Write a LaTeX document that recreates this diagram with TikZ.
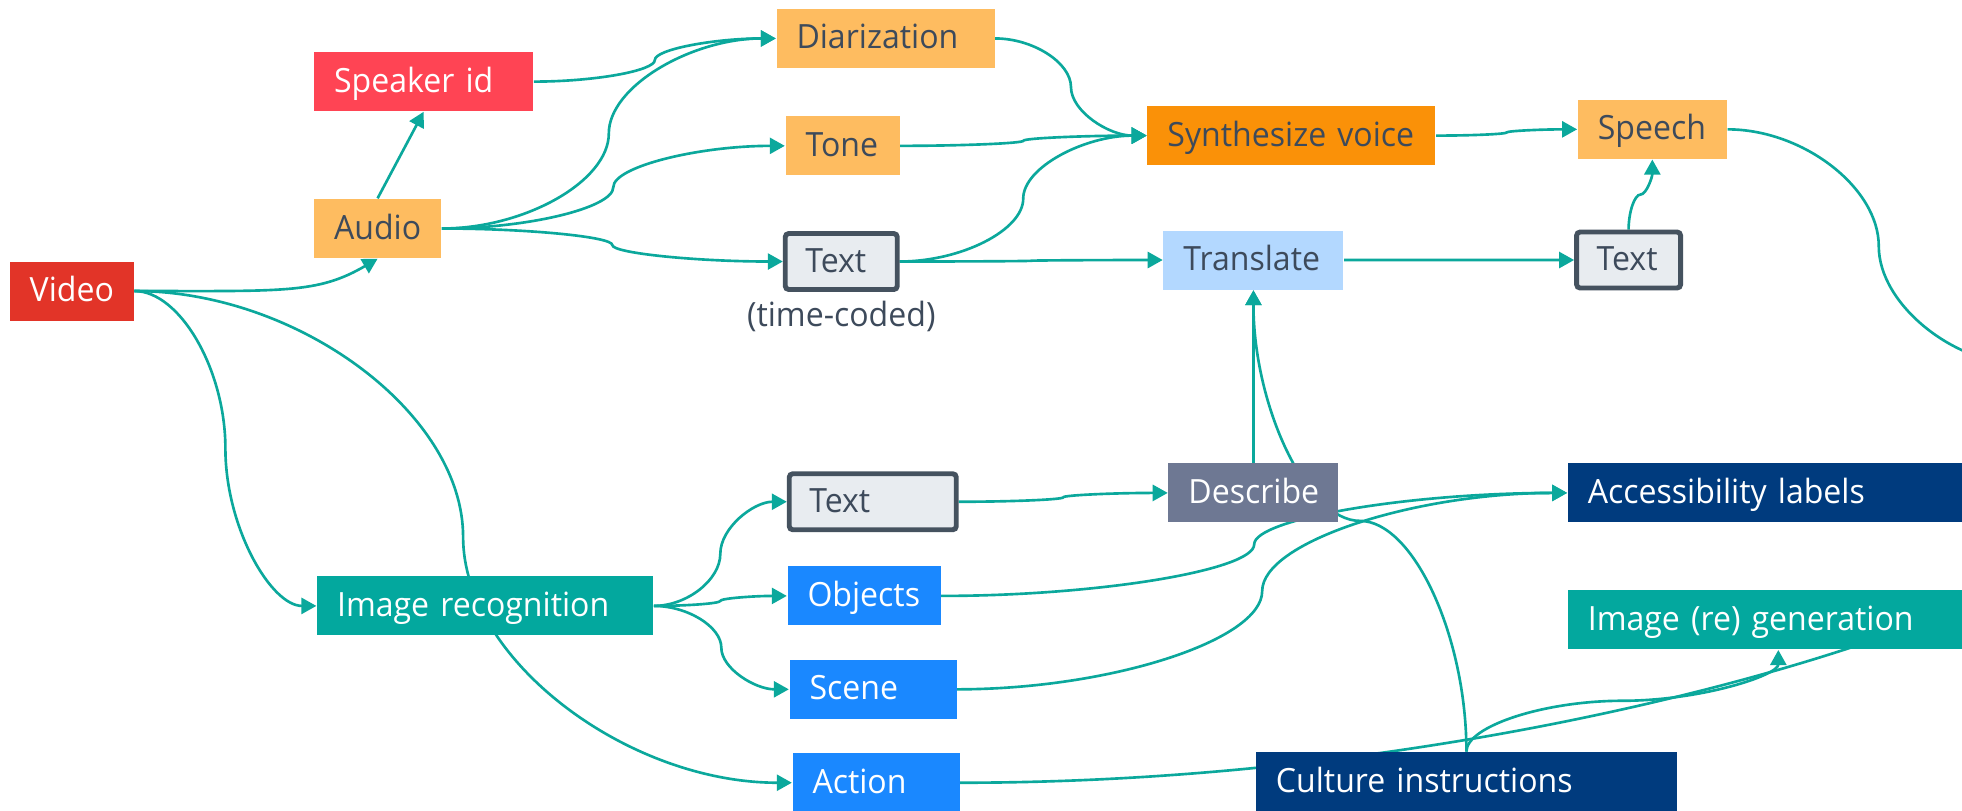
\documentclass[tikz,border=0pt]{standalone}
\usepackage{fontspec}
\setmainfont{Open Sans}[FakeStretch=0.96]
\usetikzlibrary{positioning,calc,arrows.meta,backgrounds}

\definecolor{videored}{HTML}{E23428}
\definecolor{speakerred}{HTML}{FF4454}
\definecolor{sand}{HTML}{FEBC60}
\definecolor{deeporange}{HTML}{FA9108}
\definecolor{paper}{HTML}{E8ECF0}
\definecolor{slate}{HTML}{45525F}
\definecolor{sky}{HTML}{B3D8FF}
\definecolor{dusk}{HTML}{6E7893}
\definecolor{jade}{HTML}{03A89E}
\definecolor{azure}{HTML}{1A88FF}
\definecolor{deepnavy}{HTML}{003B7E}
\definecolor{linkteal}{HTML}{0BA89C}
\definecolor{darktext}{HTML}{3D4A5B}

\tikzstyle{box} = [
    rectangle,                  % Shape
    minimum height=0.59cm,      % Height
    inner xsep=0.2cm,           % Left padding of the label
    inner ysep=0pt,
    text height=7pt,
    text depth=1pt,
    align=left,                 % Labels start at the left
    text=darktext,
    font=\fontsize{9.5}{11}\selectfont
]
\tikzstyle{redbox}    = [box, fill=videored, text=white]
\tikzstyle{pinkbox}   = [box, fill=speakerred, text=white]
\tikzstyle{sandbox}   = [box, fill=sand]
\tikzstyle{orangebox} = [box, fill=deeporange]
\tikzstyle{skybox}    = [box, fill=sky]
\tikzstyle{greybox}   = [box, fill=dusk, text=white]
\tikzstyle{jadebox}   = [box, fill=jade, text=white]
\tikzstyle{bluebox}   = [box, fill=azure, text=white]
\tikzstyle{navybox}   = [box, fill=deepnavy, text=white]
\tikzstyle{textbox}   = [box, fill=paper, draw=slate, line width=1.4pt,
                         rounded corners=1pt, minimum height=0.56cm]
\tikzstyle{flow} = [line width=0.75pt, draw=linkteal, ->,
                    >={Triangle[length=1.5mm,width=1.6mm]}]

% S-shaped connectors, bent at the half-way point
\tikzset{
    hbend/.style={to path={
        let \p1=(\tikztostart), \p2=(\tikztotarget),
            \p3=($(\p1)!.5!(\p2)$) in
        .. controls ($(\p1)!.5!(\x3,\y1)$) and ($(\p3)!.5!(\x3,\y1)$) .. (\p3)
        .. controls ($(\p3)!.5!(\x3,\y2)$) and ($(\p2)!.5!(\x3,\y2)$) .. (\p2)}},
    vbend/.style={to path={
        let \p1=(\tikztostart), \p2=(\tikztotarget),
            \p3=($(\p1)!.5!(\p2)$) in
        .. controls ($(\p1)!.5!(\x1,\y3)$) and ($(\p3)!.5!(\x1,\y3)$) .. (\p3)
        .. controls ($(\p3)!.5!(\x2,\y3)$) and ($(\p2)!.5!(\x2,\y3)$) .. (\p2)}}
}

\begin{document}
\begin{tikzpicture}

		\useasboundingbox (0,0) rectangle (19.62,-8.10);
		\clip (0,0) rectangle (19.62,-8.10);

		% Source
		\node[redbox, text width=0.84cm, anchor=west] (video) at (0.09,-2.91) {Video};

		% Audio branch
		\node[sandbox, text width=0.87cm, right=1.79cm of video, yshift=6.25mm] (audio) {Audio};
		\node[pinkbox, text width=1.79cm, above=0.865cm of audio.north west, anchor=south west] (spk) {Speaker id};
		\node[textbox, text width=0.72cm, right=3.41cm of audio, yshift=-3.3mm] (txtA) {Text};
		\node[below=0.8mm of txtA, inner sep=0pt, text=darktext,
		      font=\fontsize{9.5}{11}\selectfont] (tcnote) {(time-coded)};
		\node[sandbox, text width=0.74cm, above=0.55cm of txtA.north west, anchor=south west, xshift=0.2mm] (tone) {Tone};
		\node[sandbox, text width=1.78cm, above=0.47cm of tone.north west, anchor=south west, xshift=-0.9mm] (diar) {Diarization};

		% Voice output
		\node[skybox, text width=1.40cm, right=2.63cm of txtA, yshift=0.15mm] (transl) {Translate};
		\node[orangebox, text width=2.48cm, above=0.64cm of transl.north west, anchor=south west, xshift=-1.6mm] (synth) {Synthesize~voice};
		\node[textbox, text width=0.64cm, right=2.30cm of transl] (txtC) {Text};
		\node[sandbox, text width=1.09cm, above=0.70cm of txtC.north west, anchor=south west, xshift=0.3mm] (speech) {Speech};
		\coordinate (offA) at (20.30,-3.63);

		% Image branch
		\node[jadebox, text width=2.96cm, below=3.17cm of audio.south west, anchor=north west, xshift=0.3mm] (imgrec) {Image recognition};
		\node[bluebox, text width=1.13cm, right=1.33cm of imgrec, yshift=1mm] (objects) {Objects};
		\node[textbox, text width=1.27cm, above=0.335cm of objects.north west, anchor=south west] (txtB) {Text};
		\node[bluebox, text width=1.27cm, below=0.33cm of objects.south west, anchor=north west, xshift=0.2mm] (scene) {Scene};
		\node[bluebox, text width=1.27cm, below=0.33cm of scene.south west, anchor=north west, xshift=0.3mm] (action) {Action};

		% Outputs
		\node[greybox, text width=1.30cm, below=1.725cm of transl] (describe) {Describe};
		\node[navybox, text width=3.81cm, right=2.95cm of action, yshift=0.1mm] (culture) {Culture instructions};
		\node[navybox, text width=3.81cm, right=2.28cm of describe] (access) {Accessibility labels};
		\node[jadebox, text width=3.81cm, below=0.665cm of access] (imggen) {Image (re) generation};
		\coordinate (offB) at (20.00,-5.90);

		% Arrows
		\begin{scope}[on background layer]
		\fill[white] (0,0) rectangle (19.62,-8.10);
		\clip (0,0) rectangle (19.62,-8.10);

		\draw[flow] (video.east) .. controls +(1.5,0) and +(-0.6,-0.35) .. (audio.south);
		\draw[flow] (audio.north) -- (spk.south);
		\draw[flow] (spk.east) to[hbend] (diar.west);
		\draw[flow] (audio.east) to[hbend] (diar.west);
		\draw[flow] (audio.east) to[hbend] (tone.west);
		\draw[flow] (audio.east) to[hbend] (txtA.west);

		\draw[flow] (diar.east) to[hbend] (synth.west);
		\draw[flow] (tone.east) to[hbend] (synth.west);
		\draw[flow] (txtA.east) to[hbend] (synth.west);
		\draw[flow] (txtA.east) to[hbend] (transl.west);
		\draw[flow] (synth.east) to[hbend] (speech.west);
		\draw[flow] (transl.east) to[hbend] (txtC.west);
		\draw[flow] (txtC.north) to[vbend] (speech.south);
		\draw[flow] (speech.east) to[hbend] (offA);

		\draw[flow] (video.east) to[hbend] (imgrec.west);
		\draw[flow] (video.east) to[hbend] (action.west);
		\draw[flow] (imgrec.east) to[hbend] (txtB.west);
		\draw[flow] (imgrec.east) to[hbend] (objects.west);
		\draw[flow] (imgrec.east) to[hbend] (scene.west);

		\draw[flow] (txtB.east) to[hbend] (describe.west);
		\draw[flow] (describe.north) -- (transl.south);
		\draw[flow] (culture.north) to[vbend] (transl.south);
		\draw[flow] (objects.east) to[hbend] (access.west);
		\draw[flow] (scene.east) to[hbend] (access.west);
		\draw[flow] (culture.north) to[vbend] (imggen.south);
		\draw[flow] (action.east) .. controls +(4.4,0) and +(-2,-0.9) .. (offB);
		\end{scope}
	\end{tikzpicture}
\end{document}
